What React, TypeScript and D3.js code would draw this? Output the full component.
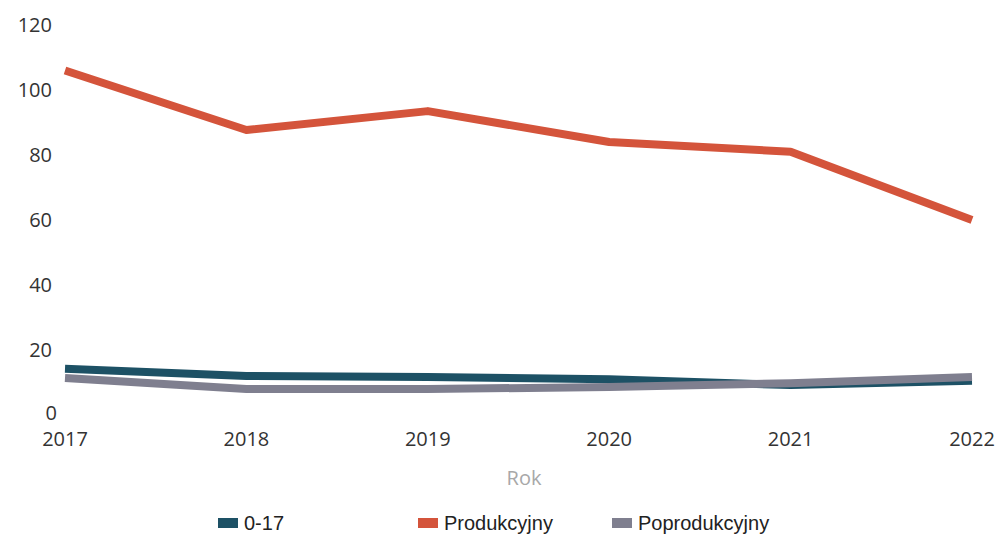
import React from "react";
import * as d3 from "d3";

const years = ["2017", "2018", "2019", "2020", "2021", "2022"];
const yTicks = [0, 20, 40, 60, 80, 100, 120];
const series017 = [14.2, 12, 11.7, 11, 9.2, 10.5];
const seriesProd = [106, 87.7, 93.5, 84, 81, 60];
const seriesPoprod = [11.4, 8, 8, 8.6, 9.8, 11.7];

const seriesList = [
  { name: "0-17", values: series017, color: "#1d5165" },
  { name: "Produkcyjny", values: seriesProd, color: "#d4543b" },
  { name: "Poprodukcyjny", values: seriesPoprod, color: "#7f7f8f" },
];

const legendItems = [
  { name: "0-17", color: "#1d5165", x: 218 },
  { name: "Produkcyjny", color: "#d4543b", x: 418 },
  { name: "Poprodukcyjny", color: "#7f7f8f", x: 612 },
];

export default function App() {
  const W = 1002;
  const H = 537;
  const x = d3.scalePoint<string>().domain(years).range([65, 972]);
  const y = d3.scaleLinear().domain([0, 120]).range([415, 25]);
  const line = d3
    .line<number>()
    .x((_, i) => x(years[i]) as number)
    .y((d) => y(d));

  return (
    <svg
      width={W}
      height={H}
      style={{ position: "absolute", left: 0, top: 0, background: "#fff" }}
    >
      {yTicks.map((t) => (
        <text
          key={t}
          x={t === 0 ? 57 : 52}
          y={t === 0 ? y(t) - 2 : y(t)}
          dy="0.35em"
          textAnchor="end"
          fontFamily="'Open Sans', sans-serif"
          fontSize={20}
          fill="#333"
        >
          {t}
        </text>
      ))}
      {years.map((yr) => (
        <text
          key={yr}
          x={x(yr) as number}
          y={439}
          dy="0.35em"
          textAnchor="middle"
          fontFamily="'Open Sans', sans-serif"
          fontSize={20}
          fill="#333"
        >
          {yr}
        </text>
      ))}
      {seriesList.map((s) => (
        <path
          key={s.name}
          d={line(s.values) || ""}
          fill="none"
          stroke={s.color}
          strokeWidth={8}
          strokeLinejoin="round"
        />
      ))}
      <text
        x={524}
        y={478}
        dy="0.35em"
        textAnchor="middle"
        fontFamily="'Open Sans', sans-serif"
        fontSize={20}
        fill="#a8a8a8"
      >
        Rok
      </text>
      {legendItems.map((l) => (
        <g key={l.name}>
          <rect x={l.x} y={518} width={20} height={10} fill={l.color} />
          <text
            x={l.x + 26}
            y={523}
            dy="0.35em"
            fontFamily="'Liberation Sans', Arial, sans-serif"
            fontSize={20}
            fill="#222"
          >
            {l.name}
          </text>
        </g>
      ))}
    </svg>
  );
}
